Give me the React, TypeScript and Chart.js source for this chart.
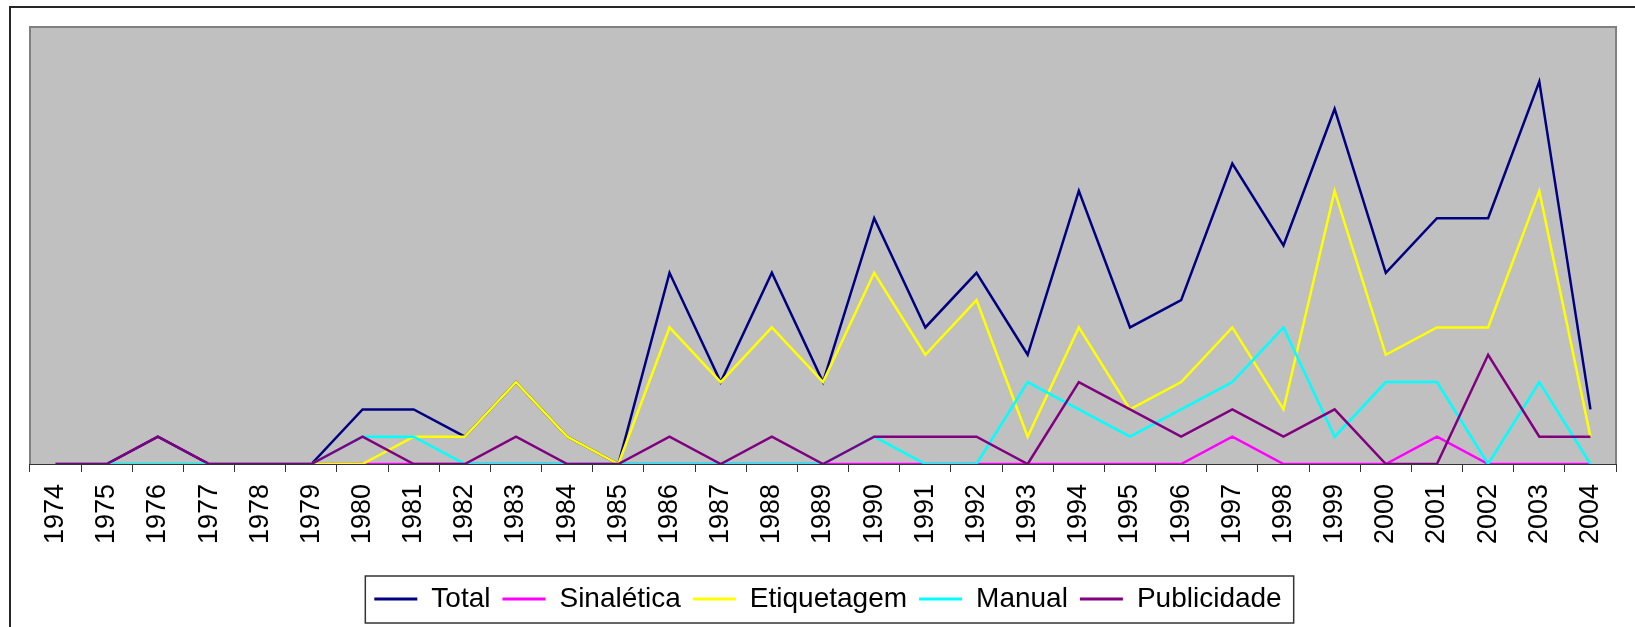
import React, { useEffect, useRef } from "react";
import { Chart, registerables } from "chart.js";

Chart.register(...registerables);

const years = [
  "1974", "1975", "1976", "1977", "1978", "1979", "1980", "1981", "1982", "1983",
  "1984", "1985", "1986", "1987", "1988", "1989", "1990", "1991", "1992", "1993",
  "1994", "1995", "1996", "1997", "1998", "1999", "2000", "2001", "2002", "2003", "2004",
];

const total = [0, 0, 1, 0, 0, 0, 2, 2, 1, 3, 1, 0, 7, 3, 7, 3, 9, 5, 7, 4, 10, 5, 6, 11, 8, 13, 7, 9, 9, 14, 2];
const sinaletica = [0, 0, 0, 0, 0, 0, 0, 0, 0, 0, 0, 0, 0, 0, 0, 0, 0, 0, 0, 0, 0, 0, 0, 1, 0, 0, 0, 1, 0, 0, 0];
const etiquetagem = [0, 0, 0, 0, 0, 0, 0, 1, 1, 3, 1, 0, 5, 3, 5, 3, 7, 4, 6, 1, 5, 2, 3, 5, 2, 10, 4, 5, 5, 10, 1];
const manual = [0, 0, 0, 0, 0, 0, 1, 1, 0, 0, 0, 0, 0, 0, 0, 0, 1, 0, 0, 3, 2, 1, 2, 3, 5, 1, 3, 3, 0, 3, 0];
const publicidade = [0, 0, 1, 0, 0, 0, 1, 0, 0, 1, 0, 0, 1, 0, 1, 0, 1, 1, 1, 0, 3, 2, 1, 2, 1, 2, 0, 0, 4, 1, 1];

const seriesNames = ["Total", "Sinalética", "Etiquetagem", "Manual", "Publicidade"];
const seriesColors = ["#000080", "#FF00FF", "#FFFF00", "#00FFFF", "#800080"];

const FONT = "'Liberation Sans', Arial, sans-serif";

const framePlugin = {
  id: "frame",
  beforeDraw(chart: any) {
    const ctx = chart.ctx;
    ctx.save();
    ctx.fillStyle = "#ffffff";
    ctx.fillRect(0, 0, chart.width, chart.height);
    ctx.strokeStyle = "#262626";
    ctx.lineWidth = 2;
    ctx.beginPath();
    ctx.moveTo(10, chart.height + 10);
    ctx.lineTo(10, 7);
    ctx.lineTo(chart.width + 10, 7);
    ctx.stroke();
    ctx.restore();
  },
  beforeDatasetsDraw(chart: any) {
    const { ctx, chartArea } = chart;
    const { left, top, right, bottom } = chartArea;
    ctx.save();
    ctx.fillStyle = "#C0C0C0";
    ctx.fillRect(left, top, right - left, bottom - top);
    ctx.strokeStyle = "#808080";
    ctx.lineWidth = 2;
    ctx.beginPath();
    ctx.moveTo(left, bottom);
    ctx.lineTo(left, top);
    ctx.lineTo(right, top);
    ctx.lineTo(right, bottom);
    ctx.stroke();
    ctx.restore();
  },
  afterDraw(chart: any) {
    const boxes = chart.legend && chart.legend.legendHitBoxes;
    if (!boxes || !boxes.length) return;
    const first = boxes[0];
    const last = boxes[boxes.length - 1];
    const cy = first.top + first.height / 2;
    const ctx = chart.ctx;
    ctx.save();
    ctx.strokeStyle = "#333333";
    ctx.lineWidth = 1.5;
    ctx.strokeRect(first.left - 9, cy - 23, last.left + last.width + 12 - (first.left - 9), 47);
    ctx.restore();
  },
};

export default function App() {
  const ref = useRef<HTMLCanvasElement | null>(null);

  useEffect(() => {
    if (!ref.current) return;
    const seriesData = [total, sinaletica, etiquetagem, manual, publicidade];
    const chart = new Chart(ref.current, {
      type: "line",
      data: {
        labels: years,
        datasets: seriesNames.map((name, i) => ({
          label: name,
          data: seriesData[i],
          borderColor: seriesColors[i],
          backgroundColor: seriesColors[i],
          borderWidth: 2.5,
          pointRadius: 0,
          pointHoverRadius: 0,
          tension: 0,
          fill: false,
          order: seriesNames.length - i,
        })),
      },
      options: {
        responsive: false,
        animation: false,
        events: [],
        layout: { padding: { left: 30, right: 9, top: 27, bottom: 4 } },
        scales: {
          x: {
            offset: true,
            grid: {
              display: true,
              offset: true,
              drawOnChartArea: false,
              drawTicks: true,
              tickLength: 8,
              color: "#333333",
              lineWidth: 1,
            },
            border: { display: true, color: "#333333", width: 2 },
            ticks: {
              autoSkip: false,
              maxRotation: 90,
              minRotation: 90,
              padding: 12,
              color: "#000000",
              font: { family: FONT, size: 27 },
            },
            afterFit: (scale: any) => {
              scale.height = 109;
            },
          },
          y: {
            display: false,
            min: 0,
            max: 16,
          },
        },
        plugins: {
          tooltip: { enabled: false },
          legend: {
            display: true,
            position: "bottom",
            labels: {
              boxWidth: 43,
              boxHeight: 3,
              padding: 12,
              color: "#000000",
              font: { family: FONT, size: 28 },
              sort: (a: any, b: any) => a.datasetIndex - b.datasetIndex,
              generateLabels: (ch: any) => {
                const items = Chart.defaults.plugins.legend.labels.generateLabels(ch);
                return items.map((it: any) => ({
                  ...it,
                  fillStyle: seriesColors[it.datasetIndex],
                  strokeStyle: seriesColors[it.datasetIndex],
                  lineWidth: 0,
                }));
              },
            },
          },
        },
      },
      plugins: [framePlugin],
    } as any);
    return () => chart.destroy();
  }, []);

  return (
    <div style={{ position: "fixed", left: 0, top: 0, width: 1635, height: 627, background: "#fff" }}>
      <canvas ref={ref} width={1635} height={627} style={{ display: "block" }} />
    </div>
  );
}
